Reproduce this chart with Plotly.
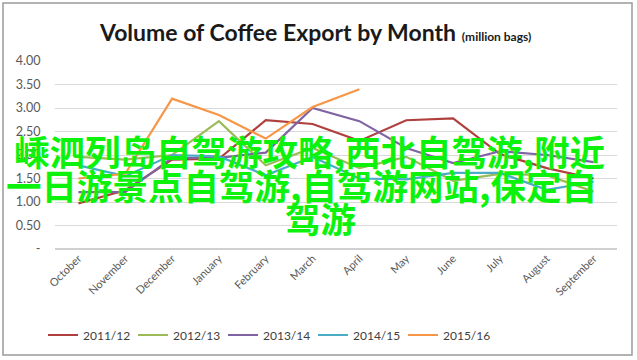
import plotly.graph_objects as go

months = ["October", "November", "December", "January", "February", "March",
          "April", "May", "June", "July", "August", "September"]

s_2011_12 = [0.97, 1.25, 1.90, 1.92, 2.74, 2.66, 2.30, 2.74, 2.78, 2.02, 1.72, 1.50]
s_2012_13 = [1.96, 1.90, 2.00, 2.72, 1.78, 2.15, 1.72, 1.96, 1.45, 1.60, 1.57, 1.22]
s_2013_14 = [1.21, 1.21, 1.94, 1.94, 2.05, 3.00, 2.72, 2.15, 1.83, 2.08, 2.00, 1.85]
s_2014_15 = [1.78, 1.55, 2.00, 1.97, 1.57, 1.96, 1.50, 1.48, 1.62, 1.62, 1.26, 1.43]
s_2015_16 = [1.50, 1.60, 3.20, 2.85, 2.35, 3.02, 3.40]

series_names = ["2011/12", "2012/13", "2013/14", "2014/15", "2015/16"]
series_values = [s_2011_12, s_2012_13, s_2013_14, s_2014_15, s_2015_16]
series_colors = ["#B0403D", "#9BBB59", "#8064A2", "#4BACC6", "#F79646"]

y_tickvals = [0, 0.5, 1.0, 1.5, 2.0, 2.5, 3.0, 3.5, 4.0]
y_ticktext = ["-", "0.50", "1.00", "1.50", "2.00", "2.50", "3.00", "3.50", "4.00"]

overlay_lines = ["嵊泗列岛自驾游攻略,西北自驾游,附近",
                 "一日游景点自驾游,自驾游网站,保定自",
                 "驾游"]

W, H = 637, 360

fig = go.Figure()
for name, vals, col in zip(series_names, series_values, series_colors):
    fig.add_trace(go.Scatter(
        x=months[:len(vals)], y=vals, name=name, mode="lines",
        line=dict(color=col, width=2.2),
    ))

fig.update_layout(
    width=W, height=H,
    margin=dict(l=0, r=0, t=0, b=0, autoexpand=False),
    paper_bgcolor="white", plot_bgcolor="white",
    font=dict(family="Lato, 'Open Sans', sans-serif", color="#595959", size=12),
    showlegend=True,
    legend=dict(orientation="h", x=268 / W, xanchor="center", y=1 - 335 / H, yanchor="middle",
                font=dict(size=12, color="#404040"), itemwidth=30, tracegroupgap=0,
                entrywidth=45, entrywidthmode="pixels"),
    xaxis=dict(domain=[55 / W, 617 / W], type="category", categoryorder="array",
               categoryarray=months, range=[-0.5, 11.5], tickangle=-45,
               showgrid=False, showline=False, zeroline=False, ticks="", automargin=False,
               tickfont=dict(size=11, color="#595959")),
    yaxis=dict(domain=[1 - 249 / H, 1 - 61 / H], range=[0, 4], tickvals=y_tickvals,
               ticktext=y_ticktext, showgrid=True, gridcolor="#D9D9D9", gridwidth=1,
               zeroline=True, zerolinecolor="#D0D0D0", zerolinewidth=2, automargin=False,
               showline=False, ticks="outside", ticklen=11, tickcolor="rgba(0,0,0,0)",
               tickfont=dict(size=12.5, color="#595959")),
)

# chart border
fig.add_shape(type="rect", xref="paper", yref="paper",
              x0=3 / W, x1=632 / W, y0=1 - 355 / H, y1=1 - 3 / H,
              line=dict(color="#9A9A9A", width=1.5), fillcolor="rgba(0,0,0,0)", layer="below")

# title
fig.add_annotation(
    xref="paper", yref="paper", x=315 / W, y=1 - 32 / H, xanchor="center", yanchor="middle",
    showarrow=False,
    text="<b>Volume of Coffee Export by Month</b> <b><span style='font-size:12px'>(million bags)</span></b>",
    font=dict(size=23, color="#1A1A1A", family="Lato, sans-serif"),
)

# overlay text
overlay_pos = [(309, 150), (301, 185), (320, 218)]
for txt, (px, py) in zip(overlay_lines, overlay_pos):
    fig.add_annotation(
        xref="paper", yref="paper", x=px / W, y=1 - py / H, xanchor="center", yanchor="middle",
        showarrow=False, text="<b>" + txt + "</b>",
        font=dict(size=35.5, color="#0DF20D", family="'Noto Sans CJK SC', sans-serif"),
    )

fig.write_html("out.html", config={"displayModeBar": False},
               post_script="document.body.style.margin='0';document.body.style.overflow='hidden';")
